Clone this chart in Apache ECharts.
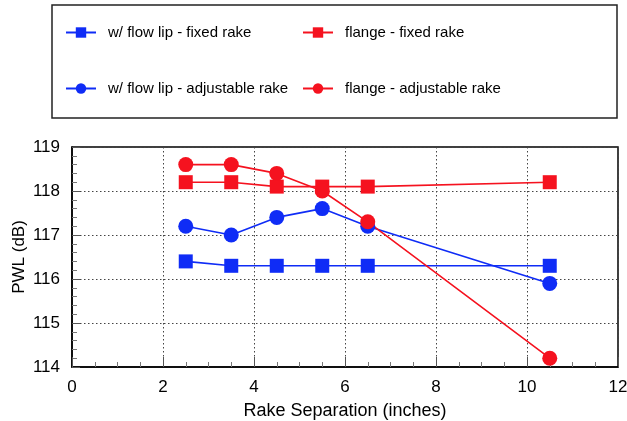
<!DOCTYPE html>
<html>
<head>
<meta charset="utf-8">
<script src="https://cdn.jsdelivr.net/npm/echarts@6/dist/echarts.min.js"></script>
<style>
  html, body { margin: 0; padding: 0; background: #fff; }
  #chart { width: 627px; height: 421px; }
</style>
</head>
<body>
<div id="chart"></div>
<script>
// Rake separation (inches) and PWL (dB) readings
const rakeSeparation = [2.5, 3.5, 4.5, 5.5, 6.5, 10.5];
const flowLipFixed = [116.4, 116.3, 116.3, 116.3, 116.3, 116.3];
const flowLipAdjustable = [117.2, 117.0, 117.4, 117.6, 117.2, 115.9];
const flangeFixed = [118.2, 118.2, 118.1, 118.1, 118.1, 118.2];
const flangeAdjustable = [118.6, 118.6, 118.4, 118.0, 117.3, 114.2];

const seriesNames = [
  'w/ flow lip - fixed rake',
  'flange - fixed rake',
  'w/ flow lip - adjustable rake',
  'flange - adjustable rake'
];

const BLUE = '#0f2cf6';
const RED = '#f5121f';
const FONT = 'Liberation Sans, Arial, Helvetica, sans-serif';

function pairs(ys) {
  return rakeSeparation.map((x, i) => [x, ys[i]]);
}

function makeSeries(name, ys, color, symbol) {
  return {
    name: name,
    type: 'line',
    data: pairs(ys),
    symbol: symbol,
    symbolSize: symbol === 'rect' ? 14 : 15,
    lineStyle: { color: color, width: 1.6 },
    itemStyle: { color: color },
    emphasis: { disabled: true },
    animation: false,
    z: 3
  };
}

function makeLegend(name, left, top) {
  return {
    data: [name],
    left: left,
    top: top,
    padding: 0,
    itemWidth: 30,
    itemHeight: 13,
    itemGap: 0,
    selectedMode: false,
    textStyle: { fontFamily: FONT, fontSize: 15, color: '#000', padding: [0, 0, 0, 7] }
  };
}

const chart = echarts.init(document.getElementById('chart'), null, { renderer: 'canvas' });

chart.setOption({
  backgroundColor: '#fff',
  animation: false,
  graphic: [{
    type: 'rect',
    shape: { x: 52, y: 5, width: 565, height: 113 },
    style: { fill: 'none', stroke: '#222', lineWidth: 1.5 },
    z: 0
  }],
  legend: [
    makeLegend(seriesNames[0], 65, 25),
    makeLegend(seriesNames[1], 302, 25),
    makeLegend(seriesNames[2], 65, 81),
    makeLegend(seriesNames[3], 302, 81)
  ],
  grid: {
    left: 72, right: 9, top: 147, bottom: 54,
    outerBoundsMode: 'none',
    containLabel: false,
    show: true, borderColor: '#000', borderWidth: 1.5, backgroundColor: 'transparent'
  },
  xAxis: {
    type: 'value',
    min: 0, max: 12, interval: 2,
    name: 'Rake Separation (inches)',
    nameLocation: 'middle',
    nameGap: 35,
    nameMoveOverlap: false,
    nameTextStyle: { fontFamily: FONT, fontSize: 18, color: '#000' },
    axisLine: { show: true, lineStyle: { color: '#000', width: 1.5 } },
    axisTick: { show: true, inside: true, length: 10, lineStyle: { color: '#555', width: 1 } },
    minorTick: { show: true, splitNumber: 4, length: 5, lineStyle: { color: '#777', width: 1 } },
    axisLabel: { fontFamily: FONT, fontSize: 17, color: '#000', margin: 12 },
    splitLine: { show: true, lineStyle: { color: '#444', type: [1.5, 2.5], width: 1 } }
  },
  yAxis: {
    type: 'value',
    min: 114, max: 119, interval: 1,
    name: 'PWL (dB)',
    nameLocation: 'middle',
    nameGap: 44,
    nameMoveOverlap: false,
    nameTextStyle: { fontFamily: FONT, fontSize: 17, color: '#000' },
    axisLine: { show: true, lineStyle: { color: '#000', width: 1.5 } },
    axisTick: { show: true, inside: true, length: 8, lineStyle: { color: '#555', width: 1 } },
    minorTick: { show: true, splitNumber: 5, length: 5, lineStyle: { color: '#777', width: 1 } },
    axisLabel: { fontFamily: FONT, fontSize: 17, color: '#000', margin: 12 },
    splitLine: { show: true, lineStyle: { color: '#444', type: [1.5, 2.5], width: 1 } }
  },
  series: [
    makeSeries(seriesNames[0], flowLipFixed, BLUE, 'rect'),
    makeSeries(seriesNames[1], flangeFixed, RED, 'rect'),
    makeSeries(seriesNames[2], flowLipAdjustable, BLUE, 'circle'),
    makeSeries(seriesNames[3], flangeAdjustable, RED, 'circle')
  ]
});
</script>
</body>
</html>
